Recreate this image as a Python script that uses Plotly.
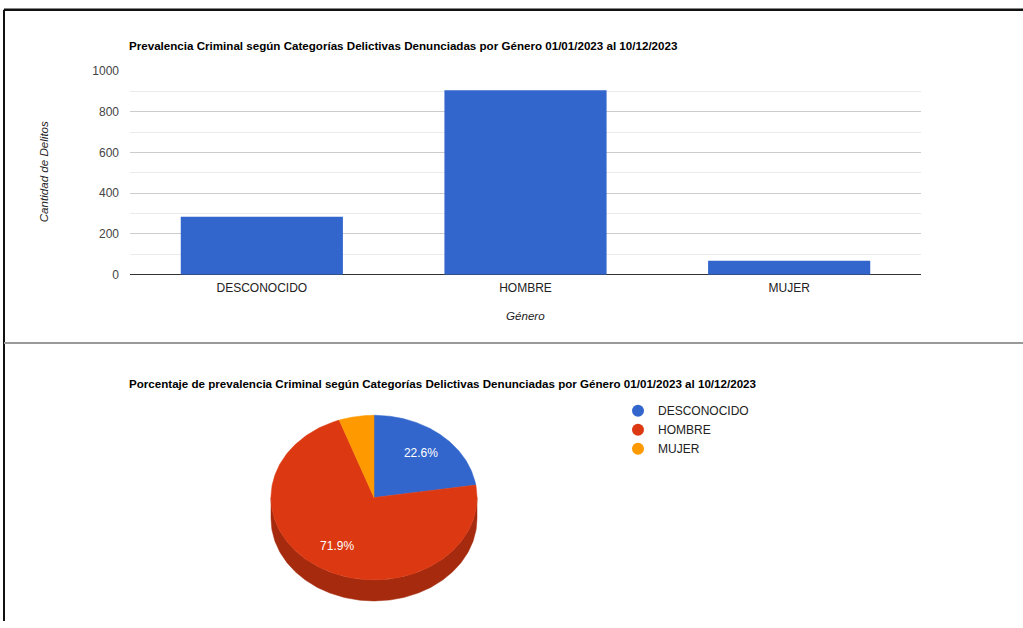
import numpy as np
import plotly.graph_objects as go

# ---------------- data ----------------
categories = ["DESCONOCIDO", "HOMBRE", "MUJER"]
counts = [284, 905, 69]
colors = ["#3366cc", "#dc3912", "#ff9900"]
side_colors = ["#264d99", "#a52a0e", "#bf7300"]
y_ticks = [0, 200, 400, 600, 800, 1000]

title_bar = "Prevalencia Criminal según Categorías Delictivas Denunciadas por Género 01/01/2023 al 10/12/2023"
title_pie = "Porcentaje de prevalencia Criminal según Categorías Delictivas Denunciadas por Género 01/01/2023 al 10/12/2023"

W, H = 1023, 628
FONT = "Arial, 'Liberation Sans', sans-serif"

# vertical mapping of target pixel rows onto the figure (compensates capture scaling)
Y_OFF, Y_SCALE = 6.3, 0.974


def px(x):
    return x / W


def py(y):
    return 1 - (y - Y_OFF) / (Y_SCALE * H)


fig = go.Figure()

# ---------------- bar chart ----------------
fig.add_trace(go.Bar(
    x=categories, y=counts, marker=dict(color=colors[0], line=dict(width=0)),
    xaxis="x", yaxis="y", showlegend=False, hoverinfo="x+y",
))

# ---------------- 3D-looking pie (drawn in pixel space on x2/y2) ----------------
cx, cy, rx, ry, depth = 374, 495, 103, 82, 21
total = sum(counts)
fracs = [c / total for c in counts]
starts = np.concatenate([[0], np.cumsum(fracs)[:-1]]) * 360
ends = np.cumsum(fracs) * 360


def ell(theta_deg, dy=0.0):
    t = np.radians(theta_deg)
    return cx + rx * np.sin(t), cy - ry * np.cos(t) + dy


# side band (front half only: 90..270 deg)
for i in range(len(categories)):
    lo, hi = max(starts[i], 90), min(ends[i], 270)
    if hi <= lo:
        continue
    th = np.linspace(lo, hi, 200)
    xt, yt = ell(th)
    xb, yb = ell(th[::-1], depth)
    fig.add_trace(go.Scatter(
        x=np.concatenate([xt, xb, xt[:1]]), y=np.concatenate([yt, yb, yt[:1]]),
        mode="lines", fill="toself", fillcolor=side_colors[i],
        line=dict(width=0.5, color=side_colors[i]),
        xaxis="x2", yaxis="y2", showlegend=False, hoverinfo="skip",
    ))

# top surface slices
for i in range(len(categories)):
    th = np.linspace(starts[i], ends[i], 200)
    xt, yt = ell(th)
    fig.add_trace(go.Scatter(
        x=np.concatenate([[cx], xt, [cx]]), y=np.concatenate([[cy], yt, [cy]]),
        mode="lines", fill="toself", fillcolor=colors[i],
        line=dict(width=0.5, color=colors[i]),
        xaxis="x2", yaxis="y2", showlegend=False,
        name=categories[i], hoverinfo="name",
    ))

# percentage labels (only large slices)
lx, ly, lt = [], [], []
for i in range(len(categories)):
    if fracs[i] < 0.1:
        continue
    mid = (starts[i] + ends[i]) / 2
    t = np.radians(mid)
    lx.append(cx + 0.7 * rx * np.sin(t))
    ly.append(cy - 0.7 * ry * np.cos(t))
    lt.append(f"{fracs[i]*100:.1f}%")
fig.add_trace(go.Scatter(
    x=lx, y=ly, text=lt, mode="text",
    textfont=dict(color="white", size=12, family=FONT),
    xaxis="x2", yaxis="y2", showlegend=False, hoverinfo="skip",
))

# legend entries
for i in range(len(categories)):
    fig.add_trace(go.Scatter(
        x=[None], y=[None], mode="markers", name=categories[i],
        marker=dict(symbol="circle", size=12, color=colors[i]),
        xaxis="x2", yaxis="y2", showlegend=True,
    ))

# ---------------- layout ----------------
fig.update_layout(
    width=W, height=H,
    margin=dict(l=0, r=0, t=0, b=0),
    paper_bgcolor="white", plot_bgcolor="rgba(0,0,0,0)",
    font=dict(family=FONT, size=12, color="#222222"),
    bargap=0.385,
    xaxis=dict(
        domain=[px(130), px(921)], anchor="y",
        showgrid=False, showline=False, ticks="",
        tickfont=dict(size=12, color="#222222"), ticklabelstandoff=4,
        fixedrange=True,
    ),
    yaxis=dict(
        domain=[py(273), py(70)], anchor="x",
        range=[0, 1000], tickvals=y_ticks,
        showgrid=True, gridcolor="#cccccc", gridwidth=1,
        minor=dict(dtick=100, showgrid=True, gridcolor="#ebebeb", gridwidth=1),
        zeroline=True, zerolinecolor="#333333", zerolinewidth=1,
        tickfont=dict(size=12, color="#444444"), ticks="", ticklabelstandoff=10,
        fixedrange=True,
    ),
    xaxis2=dict(domain=[0, 1], range=[0, W], anchor="y2", visible=False, fixedrange=True),
    yaxis2=dict(domain=[0, 1], range=[Y_OFF + Y_SCALE * H, Y_OFF], anchor="x2",
                visible=False, fixedrange=True),
    legend=dict(
        x=px(618), y=py(394), xanchor="left", yanchor="top",
        font=dict(size=12, color="#222222"), itemwidth=30,
        bgcolor="rgba(0,0,0,0)", tracegroupgap=0,
    ),
    annotations=[
        dict(text=f"<b>{title_bar}</b>", x=px(127), y=py(45), xref="paper", yref="paper",
             xanchor="left", yanchor="middle", showarrow=False,
             font=dict(size=11.6, color="#000000")),
        dict(text=f"<b>{title_pie}</b>", x=px(127), y=py(381), xref="paper", yref="paper",
             xanchor="left", yanchor="middle", showarrow=False,
             font=dict(size=11.6, color="#000000")),
        dict(text="<i>Cantidad de Delitos</i>", x=px(43), y=py(171), xref="paper", yref="paper",
             xanchor="center", yanchor="middle", showarrow=False, textangle=-90,
             font=dict(size=11.6, color="#222222")),
        dict(text="<i>Género</i>", x=px(525), y=py(314), xref="paper", yref="paper",
             xanchor="center", yanchor="middle", showarrow=False,
             font=dict(size=11.6, color="#222222")),
    ],
    shapes=[
        dict(type="line", xref="paper", yref="paper", x0=px(4), x1=1, y0=py(9), y1=py(9),
             line=dict(color="#111111", width=2.5)),
        dict(type="line", xref="paper", yref="paper", x0=px(4), x1=px(4), y0=py(9), y1=0,
             line=dict(color="#111111", width=2)),
        dict(type="line", xref="paper", yref="paper", x0=px(4), x1=1, y0=py(341), y1=py(341),
             line=dict(color="#999999", width=2)),
    ],
)

post = (
    "var d=document.getElementById('{plot_id}');"
    "var s='margin:0;padding:0;overflow:hidden;width:1023px;height:628px;';"
    "document.documentElement.style.cssText=s;document.body.style.cssText=s;"
    "d.style.position='fixed';d.style.top='0px';d.style.left='0px';"
)
fig.write_html("out.html", config={"displayModeBar": False}, post_script=post)
